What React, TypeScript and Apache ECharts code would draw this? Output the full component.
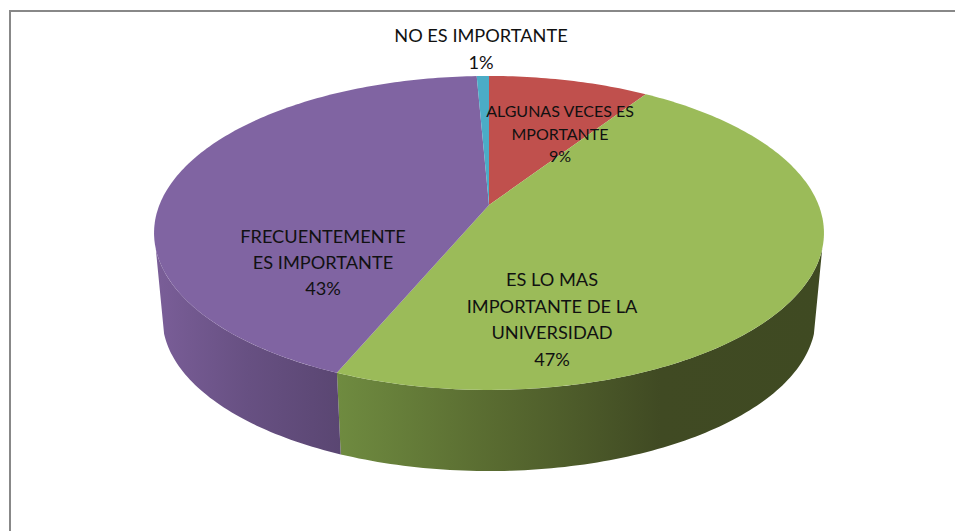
import React, { useEffect, useRef } from "react";
import * as echarts from "echarts";

const categories = [
  "ALGUNAS VECES ES\nMPORTANTE",
  "ES LO MAS\nIMPORTANTE DE LA\nUNIVERSIDAD",
  "FRECUENTEMENTE\nES IMPORTANTE",
  "NO ES IMPORTANTE",
];
const shares = [9.2, 47.1, 43, 0.7];

const topColors = ["#C0504D", "#9BBB59", "#8064A2", "#4BACC6"];
const sideStops: string[][] = [
  ["#8a3a38", "#8a3a38"],
  ["#6f8b40", "#586a30", "#404a23", "#3f4a22"],
  ["#7a5e98", "#675082", "#5a4672"],
  ["#357c8e", "#357c8e"],
];
const labelAnchors = [
  { x: 560, y: 133, size: 16, lh: 22.5 },
  { x: 552, y: 319, size: 18.2, lh: 26.5 },
  { x: 323, y: 262, size: 18.2, lh: 26 },
  { x: 481, y: 48, size: 18.2, lh: 27 },
];

// Perspective model of the tilted disc
const CX = 489;
const P = 0.178;
const topFace = { y0: 205, R: 329.6, k: 152 };
const baseFace = { y0: 291, R: 321.4, k: 148 };
const SIDE_FROM = 106;
const SIDE_TO = 254;

const project = (f: { y0: number; R: number; k: number }, deg: number) => {
  const t = (deg * Math.PI) / 180;
  const w = 1 + P * Math.cos(t);
  return [CX + (f.R * Math.sin(t)) / w, f.y0 - (f.k * Math.cos(t)) / w];
};

const arc = (f: typeof topFace, a: number, b: number) => {
  const pts: number[][] = [];
  const n = Math.max(2, Math.ceil(Math.abs(b - a)));
  for (let i = 0; i <= n; i++) pts.push(project(f, a + ((b - a) * i) / n));
  return pts;
};

const total = shares.reduce((s, v) => s + v, 0);

export default function App() {
  const ref = useRef<HTMLDivElement>(null);
  useEffect(() => {
    const chart = echarts.init(ref.current!, null, { renderer: "svg" });
    chart.setOption({
      animation: false,
      backgroundColor: "#ffffff",
      graphic: [
        { type: "rect", shape: { x: 9, y: 10, width: 946, height: 2 }, style: { fill: "#888888" } },
        { type: "rect", shape: { x: 9, y: 10, width: 2, height: 521 }, style: { fill: "#888888" } },
      ],
      series: [
        {
          type: "custom",
          coordinateSystem: "none",
          silent: true,
          data: shares.map((v, i) => ({ name: categories[i], value: [v, i] })),
          renderItem: (_p: any, api: any) => {
            const v = api.value(0) as number;
            const i = api.value(1) as number;
            let before = 0;
            for (let j = 0; j < i; j++) before += shares[j];
            const a = (before / total) * 360;
            const b = ((before + v) / total) * 360;
            const children: any[] = [];
            const sa = Math.max(a, SIDE_FROM);
            const sb = Math.min(b, SIDE_TO);
            if (sb > sa) {
              const stops = sideStops[i];
              children.push({
                type: "polygon",
                z2: 1,
                shape: { points: [...arc(topFace, sa, sb), ...arc(baseFace, sb, sa)] },
                style: {
                  fill: new echarts.graphic.LinearGradient(
                    0, 0, 1, 0,
                    stops.map((color, n) => ({ offset: n / (stops.length - 1), color }))
                  ),
                },
              });
            }
            children.push({
              type: "polygon",
              z2: 2,
              shape: { points: [[CX, topFace.y0], ...arc(topFace, a, b)] },
              style: { fill: topColors[i] },
            });
            const l = labelAnchors[i];
            children.push({
              type: "text",
              z2: 3,
              x: l.x,
              y: l.y,
              style: {
                text: `${categories[i]}\n${Math.round(v)}%`,
                fill: "#111111",
                fontFamily: "Lato",
                fontSize: l.size,
                lineHeight: l.lh,
                align: "center",
                verticalAlign: "middle",
              },
            });
            return { type: "group", children };
          },
        },
      ],
    });
    return () => chart.dispose();
  }, []);
  return (
    <div
      ref={ref}
      style={{ position: "absolute", left: 0, top: 0, width: 955, height: 531 }}
    />
  );
}
